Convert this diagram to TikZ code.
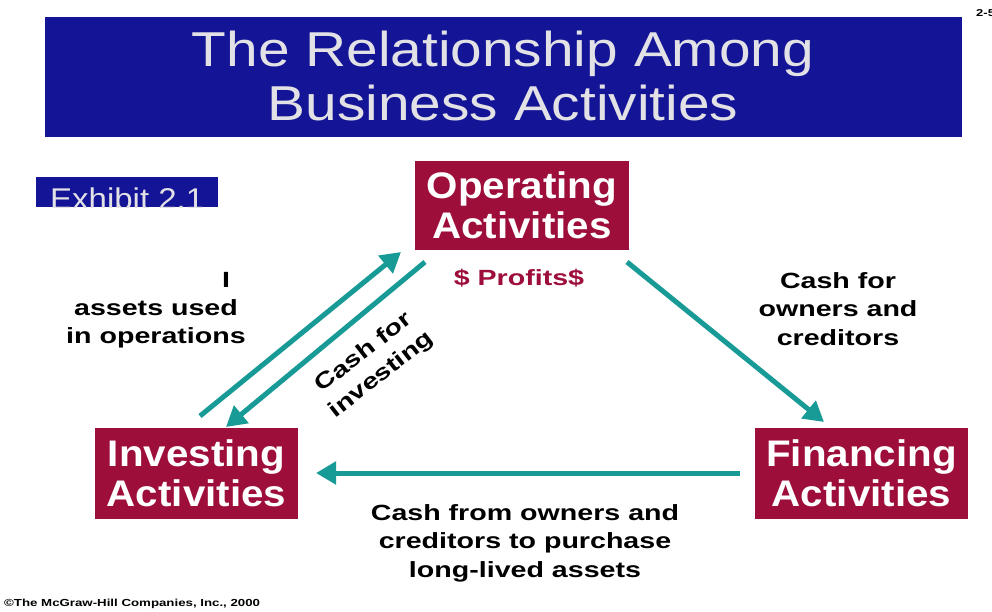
\documentclass[tikz,border=0pt]{standalone}
\usepackage{fontspec}
\setmainfont{Liberation Sans}
\newfontfamily\capfont[FakeStretch=1.3]{Liberation Sans}
\newfontfamily\boxfont[FakeStretch=1.09]{Liberation Sans}
\newfontfamily\tagfont[FakeStretch=1.1]{Liberation Sans}
\newfontfamily\headfont[FakeStretch=1.16]{Liberation Sans}
\usetikzlibrary{arrows.meta}
\definecolor{titleblue}{RGB}{20,20,150}
\definecolor{titletext}{RGB}{225,225,230}
\definecolor{actred}{RGB}{158,14,58}
\definecolor{flowteal}{RGB}{24,154,150}
\tikzset{
  actbox/.style={fill=actred, text=white, font=\boxfont\fontsize{37}{40}\selectfont\bfseries,
    align=center, inner sep=0pt, minimum height=91pt},
  flow/.style={draw=flowteal, line width=5pt, -{Triangle[length=20pt,width=22pt]}},
  caption/.style={font=\capfont\fontsize{22}{28.5}\selectfont\bfseries, align=center, text=black, inner sep=0pt},
  titleline/.style={text=titletext, font=\headfont\fontsize{49}{49}\selectfont, anchor=base, inner sep=0pt},
}
\begin{document}
\begin{tikzpicture}[x=1pt,y=-1pt]
\useasboundingbox (0,0) rectangle (992,611);
% title banner
\fill[titleblue] (45,17) rectangle (962,137);
\node[titleline] (title1) at (503,66) {The Relationship Among};
\node[titleline] (title2) at (503,120) {Business Activities};
\node[font=\capfont\fontsize{10}{10}\selectfont\bfseries, anchor=west, inner sep=0pt] (page) at (976,13) {2-5};
% exhibit tag, cut off along its lower edge
\begin{scope}
  \clip (36,177) rectangle (218,207);
  \fill[titleblue] (36,177) rectangle (218,207);
  \node[text=titletext, font=\tagfont\fontsize{30}{30}\selectfont, anchor=base west, inner sep=0pt]
    (exhibit) at (50,209) {Exhibit 2.1};
\end{scope}
% activity boxes
\node[actbox, minimum width=214pt, minimum height=89pt] (op) at (522,205.5) {Operating\\Activities};
\node[actbox, minimum width=203pt] (inv) at (196.5,473.5) {Investing\\Activities};
\node[actbox, minimum width=213pt] (fin) at (861.5,473.5) {Financing\\Activities};
% flow end points
\coordinate (a1s) at (200,416);
\coordinate (a1e) at (401,252);
\coordinate (a2s) at (425,262);
\coordinate (a2e) at (226,427);
\coordinate (a3s) at (627,262);
\coordinate (a3e) at (824,422);
\coordinate (a4s) at (740,473);
\coordinate (a4e) at (316,473);
\draw[flow] (a1s) -- (a1e);
\draw[flow] (a2s) -- (a2e);
\draw[flow] (a3s) -- (a3e);
\draw[flow] (a4s) -- (a4e);
% captions
\node[caption, text=actred] (profits) at (519,278) {\$ Profits\$};
\node[caption] (bar) at (226,280) {I};
\node[caption] (used) at (156,324) {assets used\\in operations};
\node[caption] (owners) at (838,309) {Cash for\\owners and\\creditors};
\node[caption] (purchase) at (525,543) {Cash from owners and\\creditors to purchase\\long-lived assets};
\node[caption, rotate=38] (investing) at (373,364) {Cash for\\investing};
\node[font=\capfont\fontsize{10.2}{11}\selectfont\bfseries, anchor=west, inner sep=0pt] (copy) at (4,604)
  {\char"00A9The McGraw-Hill Companies, Inc., 2000};
\end{tikzpicture}
\end{document}
